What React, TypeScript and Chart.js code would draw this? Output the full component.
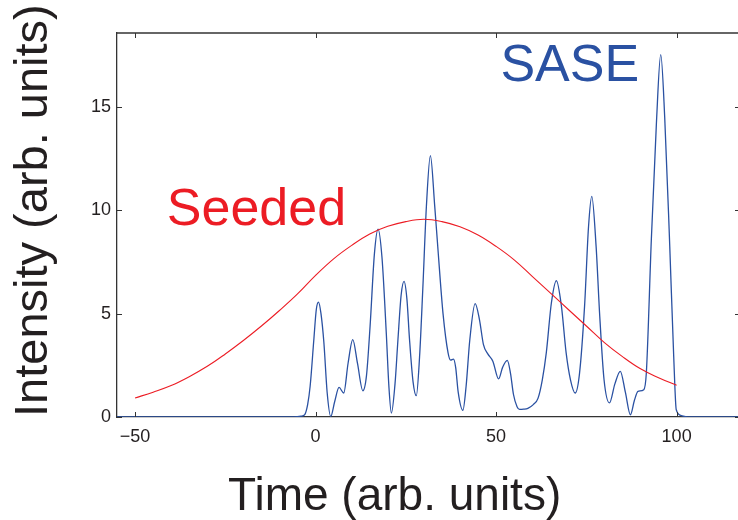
import React, { useEffect, useRef } from 'react';
import { Chart, registerables } from 'chart.js';

Chart.register(...registerables);

// ---- data ----
const seededX = [-50, -45, -40, -35, -30, -25, -20, -15, -10, -5, 0, 5, 10, 15, 20, 25, 30, 35, 40, 45, 50, 55, 60, 65, 70, 75, 80, 85, 90, 95, 100];
const seededY = [0.92, 1.2, 1.52, 1.95, 2.45, 3.05, 3.7, 4.4, 5.15, 5.95, 6.85, 7.65, 8.3, 8.85, 9.22, 9.45, 9.56, 9.45, 9.2, 8.8, 8.25, 7.6, 6.8, 6.0, 5.2, 4.4, 3.6, 2.92, 2.33, 1.9, 1.53];

const saseX = [-55, -6, -4, -3, -2.2, -1.5, -0.5, 0.2, 0.8, 1.5, 2.3, 3.2, 4.2, 5.3, 6.5, 7.8, 9.0, 10.3, 11.6, 13.1, 14.1, 15.1, 16.3, 17.3, 18.4, 19.6, 20.3, 21.0, 22.0, 22.8, 23.7, 24.5, 25.3, 26.0, 27.0, 27.9, 28.8, 29.7, 30.7, 31.8, 33.0, 33.9, 35.3, 36.7, 37.4, 38.2, 38.8, 39.5, 40.8, 41.7, 42.7, 44.2, 45.4, 46.5, 47.7, 49.1, 50.7, 51.8, 53.1, 54.0, 54.8, 55.8, 56.5, 57.6, 58.8, 60.3, 61.6, 62.8, 63.9, 65.3, 66.7, 68.1, 69.4, 70.6, 71.9, 73.1, 74.5, 75.6, 76.5, 77.7, 78.7, 79.9, 81.4, 82.9, 84.4, 85.8, 87.2, 88.3, 89.3, 90.9, 91.6, 93.0, 94.4, 95.6, 96.7, 98.1, 99.2, 99.9, 101.3, 103, 117];
const saseY = [0, 0, 0.04, 0.12, 0.6, 1.5, 3.7, 5.2, 5.56, 5.0, 3.6, 1.2, 0.03, 0.75, 1.43, 1.16, 2.6, 3.74, 2.6, 1.27, 2.0, 4.4, 7.9, 9.09, 7.7, 4.0, 1.5, 0.19, 1.6, 3.7, 5.9, 6.56, 5.7, 3.8, 1.7, 1.03, 2.9, 6.2, 10.2, 12.64, 10.2, 8.1, 5.0, 3.1, 2.75, 2.8, 2.4, 1.2, 0.32, 1.5, 3.7, 5.48, 4.7, 3.5, 3.05, 2.7, 1.84, 2.4, 2.74, 2.1, 1.1, 0.5, 0.37, 0.38, 0.42, 0.6, 0.9, 1.8, 3.1, 5.5, 6.59, 5.35, 3.1, 1.8, 1.16, 2.1, 5.35, 9.2, 10.67, 8.25, 4.9, 1.8, 0.68, 1.6, 2.21, 1.2, 0.11, 0.8, 1.24, 1.32, 2.1, 8.6, 14.2, 17.52, 14.5, 8.25, 2.9, 0.35, 0.07, 0.01, 0];

const xTicks = [-50, 0, 50, 100];
const xTickLabels = ['\u221250', '0', '50', '100'];
const yTicks = [0, 5, 10, 15];
const yTickLabels = ['0', '5', '10', '15'];

const seriesNames = ['Seeded', 'SASE'];
const xTitle = 'Time (arb. units)';
const yTitle = 'Intensity (arb. units)';

// label anchor positions in data units (left / baseline of each label)
const seededLabelAt = [-41.2, 9.3];
const saseLabelAt = [51.2, 16.23];
const xTitleCenterX = 21.9;

const FONT = '"Liberation Sans", Arial, Helvetica, sans-serif';
const RED = '#ec1c24';
const BLUE = '#2a51a2';
const AXIS = '#333333';
const TEXT = '#231f20';

const framePlugin = {
  id: 'framePlugin',
  afterDraw(chart: any) {
    const { ctx, chartArea, scales } = chart;
    const { left, right, top, bottom } = chartArea;
    const xs = scales.x;
    const ys = scales.y;
    ctx.save();
    ctx.strokeStyle = AXIS;
    ctx.lineWidth = 1.3;
    ctx.beginPath();
    ctx.moveTo(left, top);
    ctx.lineTo(right + 2, top);
    ctx.stroke();
    ctx.lineWidth = 1;
    ctx.beginPath();
    for (const v of xTicks) {
      const px = Math.round(xs.getPixelForValue(v)) + 0.5;
      ctx.moveTo(px, bottom);
      ctx.lineTo(px, bottom - 5);
      ctx.moveTo(px, top);
      ctx.lineTo(px, top + 5);
    }
    for (const v of yTicks) {
      const py = Math.round(ys.getPixelForValue(v)) + 0.5;
      ctx.moveTo(left, py);
      ctx.lineTo(left + 5, py);
      ctx.moveTo(right + 1, py);
      ctx.lineTo(right - 3, py);
    }
    ctx.stroke();

    ctx.textAlign = 'left';
    ctx.textBaseline = 'alphabetic';
    ctx.font = `52px ${FONT}`;
    ctx.fillStyle = RED;
    ctx.fillText(seriesNames[0], xs.getPixelForValue(seededLabelAt[0]), ys.getPixelForValue(seededLabelAt[1]));
    ctx.fillStyle = BLUE;
    ctx.fillText(seriesNames[1], xs.getPixelForValue(saseLabelAt[0]), ys.getPixelForValue(saseLabelAt[1]));

    ctx.font = `46px ${FONT}`;
    ctx.fillStyle = TEXT;
    ctx.textAlign = 'center';
    ctx.fillText(xTitle, xs.getPixelForValue(xTitleCenterX), 510);
    ctx.restore();
  },
};

export default function App() {
  const canvasRef = useRef<HTMLCanvasElement | null>(null);

  useEffect(() => {
    if (!canvasRef.current) return;
    const chart = new Chart(canvasRef.current, {
      type: 'line',
      data: {
        datasets: [
          {
            label: seriesNames[0],
            data: seededX.map((x, i) => ({ x, y: seededY[i] })),
            borderColor: RED,
            borderWidth: 1.1,
            pointRadius: 0,
            tension: 0.4,
            fill: false,
          },
          {
            label: seriesNames[1],
            data: saseX.map((x, i) => ({ x, y: saseY[i] })),
            borderColor: BLUE,
            borderWidth: 1.3,
            pointRadius: 0,
            cubicInterpolationMode: 'monotone',
            fill: false,
          },
        ],
      },
      options: {
        animation: false,
        responsive: true,
        maintainAspectRatio: false,
        layout: { padding: { top: 33, left: 0, right: 0, bottom: 0 } },
        plugins: {
          legend: { display: false },
          tooltip: { enabled: false },
          title: { display: false },
        },
        scales: {
          x: {
            type: 'linear',
            min: -55,
            max: 117,
            afterBuildTicks: (scale: any) => {
              scale.ticks = xTicks.map((v) => ({ value: v }));
            },
            afterFit: (scale: any) => {
              scale.height = 103;
            },
            grid: { display: false, drawTicks: false },
            border: { display: true, color: AXIS, width: 1.3 },
            ticks: {
              padding: 9,
              color: TEXT,
              font: { family: FONT, size: 18 },
              maxRotation: 0,
              autoSkip: false,
              callback: (value: any) => {
                const i = xTicks.indexOf(Number(value));
                return i >= 0 ? xTickLabels[i] : '';
              },
            },
          },
          y: {
            type: 'linear',
            min: 0,
            max: 18.57,
            afterBuildTicks: (scale: any) => {
              scale.ticks = yTicks.map((v) => ({ value: v }));
            },
            afterFit: (scale: any) => {
              scale.width = 117;
            },
            grid: { display: false, drawTicks: false },
            border: { display: true, color: AXIS, width: 1.3 },
            ticks: {
              padding: 6,
              color: TEXT,
              font: { family: FONT, size: 18 },
              autoSkip: false,
              callback: (value: any) => {
                const i = yTicks.indexOf(Number(value));
                return i >= 0 ? yTickLabels[i] : '';
              },
            },
            title: {
              display: true,
              text: yTitle,
              align: 'start',
              color: TEXT,
              font: { family: FONT, size: 47, lineHeight: 1 },
              padding: { top: 11, bottom: 0 },
            },
          },
        },
      },
      plugins: [framePlugin],
    } as any);
    return () => chart.destroy();
  }, []);

  return (
    <div style={{ position: 'absolute', left: 0, top: 0, width: 738, height: 520, background: '#fff' }}>
      <canvas ref={canvasRef} />
    </div>
  );
}
